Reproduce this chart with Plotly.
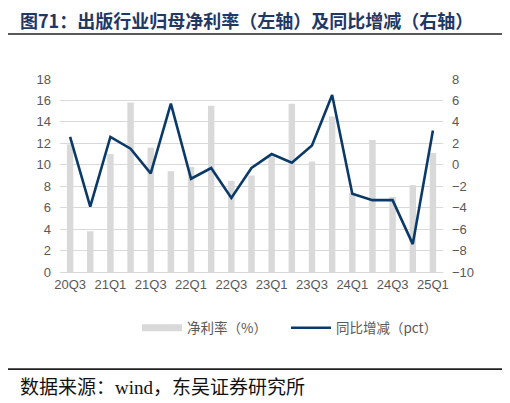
"""
出版行业归母净利率（左轴）及同比增减（右轴）
"""
import plotly.graph_objects as go

quarters = [
    "20Q3", "20Q4", "21Q1", "21Q2", "21Q3", "21Q4", "22Q1", "22Q2", "22Q3", "22Q4",
    "23Q1", "23Q2", "23Q3", "23Q4", "24Q1", "24Q2", "24Q3", "24Q4", "25Q1",
]
net_margin = [11.9, 3.8, 11.0, 15.8, 11.6, 9.4, 9.8, 15.5, 8.5, 9.0,
              10.8, 15.7, 10.3, 14.5, 7.4, 12.3, 7.0, 8.1, 11.1]
yoy_change = [2.6, -3.9, 2.6, 1.5, -0.8, 5.7, -1.3, -0.3, -3.1, -0.3,
              1.0, 0.2, 1.8, 6.5, -2.7, -3.3, -3.3, -7.4, 3.2]
tick_labels = quarters[::2]

TITLE = "图71：出版行业归母净利率（左轴）及同比增减（右轴）"
SOURCE = "数据来源：wind，东吴证券研究所"

NAVY = "#0b3a68"
BAR = "#d9d9d9"
GRID = "#d9d9d9"
TICK = "#595959"
CJK = "Noto Sans CJK SC"

fig = go.Figure()
fig.add_trace(go.Bar(
    x=quarters, y=net_margin, name="净利率（%）", showlegend=False,
    marker=dict(color=BAR, line_width=0),
))
# wide flat legend key for the bars, like the original
fig.add_trace(go.Scatter(
    x=[None], y=[None], name="净利率（%）", mode="lines",
    line=dict(color=BAR, width=7),
))
fig.add_trace(go.Scatter(
    x=quarters, y=yoy_change, name="同比增减（pct）", yaxis="y2",
    mode="lines", line=dict(color=NAVY, width=2.6),
))

# page has an 8px body margin, so the figure is offset by 8px
fig.update_layout(
    width=502, height=395,
    margin=dict(l=52, r=67, t=71, b=131),
    paper_bgcolor="white", plot_bgcolor="white",
    bargap=0.68,
    font=dict(family="Liberation Sans, Arial", size=13, color=TICK),
    xaxis=dict(
        type="category", tickmode="array", tickvals=tick_labels, ticktext=tick_labels,
        showgrid=False, showline=True, linecolor=GRID, linewidth=1,
        ticks="", tickfont=dict(size=13, color=TICK), range=[-0.5, 18.5],
    ),
    yaxis=dict(
        range=[0, 18], dtick=2, showgrid=True, gridcolor=GRID, gridwidth=1,
        zeroline=False, showline=False, ticks="", ticklabelstandoff=8,
        tickfont=dict(size=13, color=TICK),
    ),
    yaxis2=dict(
        range=[-10, 8], dtick=2, overlaying="y", side="right", showgrid=False,
        zeroline=False, showline=False, ticks="", ticklabelstandoff=8,
        tickfont=dict(size=13, color=TICK),
    ),
    legend=dict(
        orientation="h", x=0.59, xanchor="center", y=-0.29, yanchor="middle",
        font=dict(family=CJK, size=13.5, color=TICK), itemwidth=40,
        entrywidth=94, traceorder="normal",
    ),
)

# title, rules, source
fig.add_annotation(
    text=f"<b>{TITLE}</b>", xref="paper", yref="paper", x=-0.11, y=1.0,
    xanchor="left", yanchor="middle", yshift=59, showarrow=False,
    font=dict(family=CJK, size=18, color="#1f3864"),
)
fig.add_shape(type="line", xref="paper", yref="paper", x0=-0.136, x1=1.157,
              y0=1.233, y1=1.233, line=dict(color="#222222", width=1.6))
fig.add_shape(type="line", xref="paper", yref="paper", x0=-0.136, x1=1.157,
              y0=-0.503, y1=-0.503, line=dict(color="#222222", width=1.6))
fig.add_annotation(
    text=SOURCE, xref="paper", yref="paper", x=-0.11, y=-0.601,
    xanchor="left", yanchor="middle", showarrow=False,
    font=dict(family="Liberation Serif, " + CJK, size=19, color="#111111"),
)

fig.write_html("out.html")
